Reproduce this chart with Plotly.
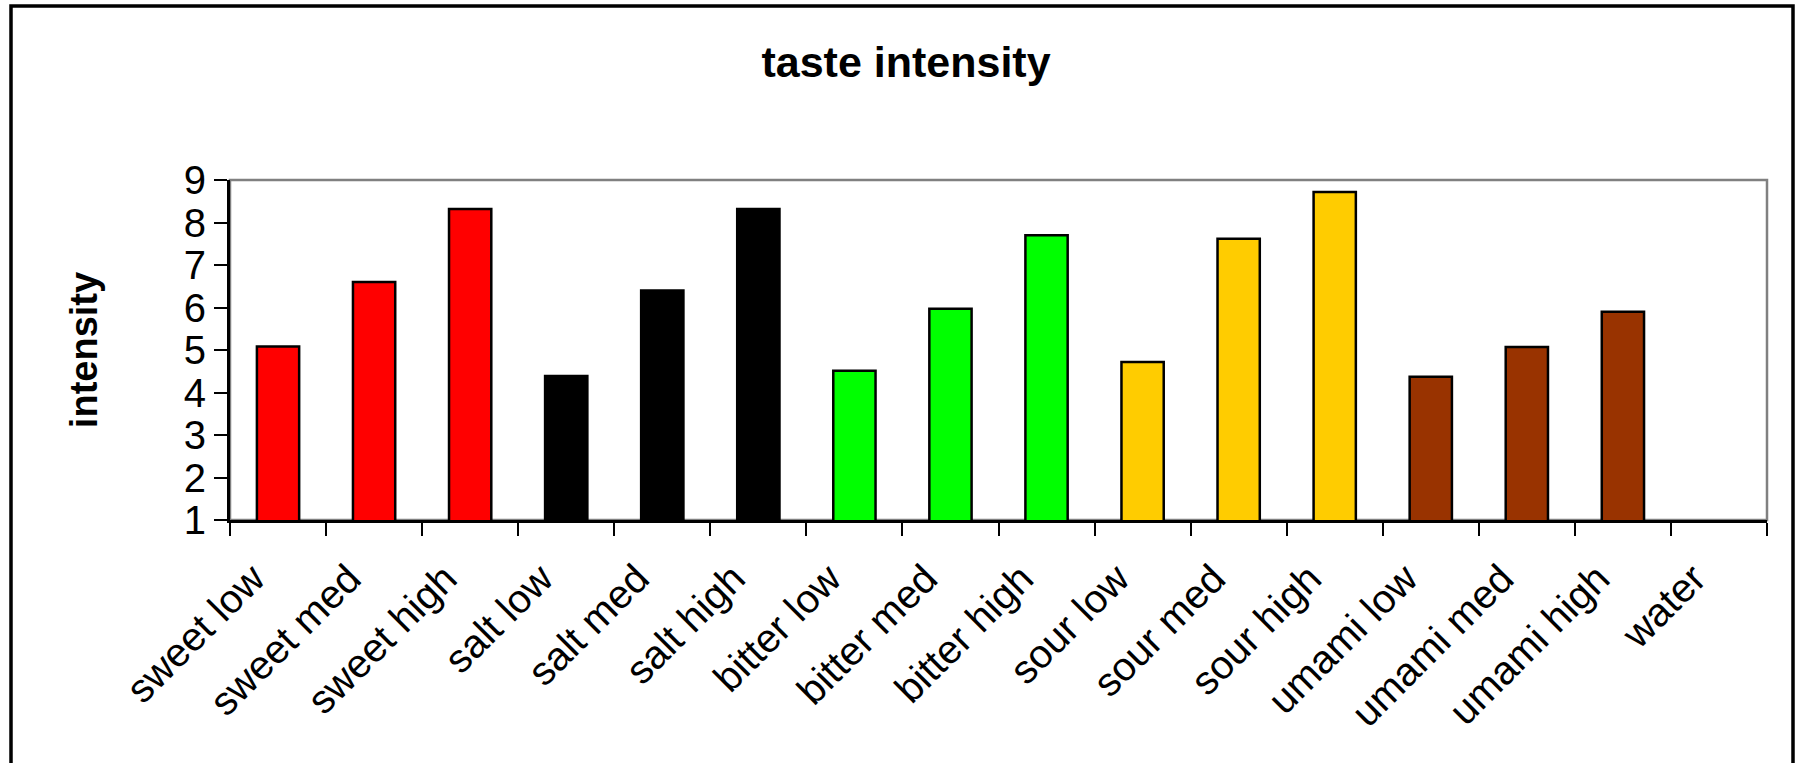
import plotly.graph_objects as go

# Taste stimuli and their mean rated intensity
categories = [
    "sweet low", "sweet med", "sweet high",
    "salt low", "salt med", "salt high",
    "bitter low", "bitter med", "bitter high",
    "sour low", "sour med", "sour high",
    "umami low", "umami med", "umami high",
    "water",
]
intensity = [
    5.08, 6.6, 8.32,
    4.39, 6.4, 8.32,
    4.51, 5.97, 7.7,
    4.72, 7.62, 8.72,
    4.37, 5.07, 5.9,
    None,
]
bar_colors = [
    "#FF0000", "#FF0000", "#FF0000",
    "#000000", "#000000", "#000000",
    "#00FF00", "#00FF00", "#00FF00",
    "#FFCC00", "#FFCC00", "#FFCC00",
    "#993300", "#993300", "#993300",
    "#FFFFFF",
]
y_ticks = [1, 2, 3, 4, 5, 6, 7, 8, 9]

W, H = 1796, 763
L, R, T, B = 230, 29, 180, 243
pw, ph = W - L - R, H - T - B

def px_to_paper_x(x):
    return (x - L) / pw

def px_to_paper_y(y):
    return (H - B - y) / ph

FONT = "Liberation Sans, Arial, sans-serif"

fig = go.Figure(
    go.Bar(
        x=categories,
        y=intensity,
        marker=dict(color=bar_colors, line=dict(color="#000000", width=2.5)),
        showlegend=False,
    )
)

fig.update_layout(
    width=W,
    height=H,
    margin=dict(l=L, r=R, t=T, b=B, autoexpand=False),
    paper_bgcolor="white",
    plot_bgcolor="white",
    bargap=0.56,
    font=dict(family=FONT, color="black", size=40),
    title=dict(
        text="<b>taste intensity</b>",
        font=dict(family=FONT, size=43, color="black"),
        x=906 / W,
        xanchor="center",
        y=1 - 62 / H,
        yanchor="middle",
    ),
    shapes=[
        # plot-area frame (grey), sits beneath the black axis lines
        dict(
            type="rect", xref="paper", yref="paper", layer="below",
            x0=0, x1=1, y0=0, y1=1,
            line=dict(color="#808080", width=2.5),
        ),
        # chart-area outer border
        dict(
            type="rect", xref="paper", yref="paper", layer="above",
            x0=px_to_paper_x(11), x1=px_to_paper_x(1793),
            y0=px_to_paper_y(790), y1=px_to_paper_y(6),
            line=dict(color="#000000", width=3.5),
        ),
    ],
)

fig.update_xaxes(
    type="category",
    range=[-0.5, len(categories) - 0.5],
    tickangle=-45,
    tickson="boundaries",
    ticks="outside",
    ticklen=13,
    tickwidth=2,
    tickcolor="black",
    ticklabelshift=-25,
    ticklabelstandoff=16,
    showline=True,
    linecolor="black",
    linewidth=3,
    showgrid=False,
    tickfont=dict(family=FONT, size=40, color="black"),
    automargin=False,
)

fig.update_yaxes(
    range=[1, 9],
    tickmode="array",
    tickvals=y_ticks,
    ticktext=[str(v) for v in y_ticks],
    ticks="outside",
    ticklen=13,
    tickwidth=2,
    tickcolor="black",
    showline=True,
    linecolor="black",
    linewidth=3,
    showgrid=False,
    zeroline=False,
    tickfont=dict(family=FONT, size=40, color="black"),
    title=dict(
        text="<b>intensity</b>",
        font=dict(family=FONT, size=38, color="black"),
        standoff=75,
    ),
    automargin=False,
)

fig.write_html("out.html")
